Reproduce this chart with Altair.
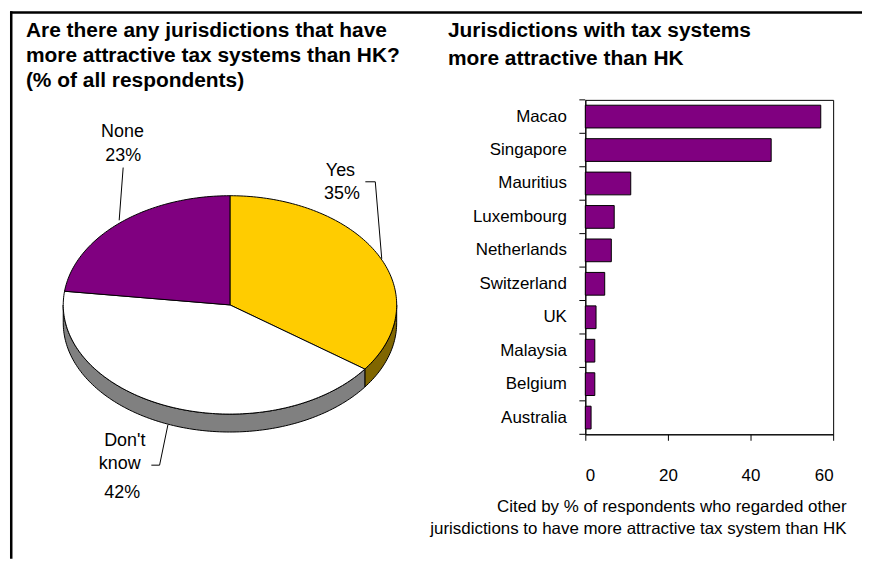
import math
import altair as alt
import pandas as pd

# ---------------- data ----------------
countries = ["Macao", "Singapore", "Mauritius", "Luxembourg", "Netherlands",
             "Switzerland", "UK", "Malaysia", "Belgium", "Australia"]
cited_pct = [57, 45, 11, 7, 6.3, 4.7, 2.6, 2.3, 2.3, 1.4]
x_ticks = [0, 20, 40, 60]

pie_labels = ["Yes", "Don't know", "None"]
pie_values = [35, 42, 23]
pie_colors = ["#FFCC00", "#FFFFFF", "#800080"]
pie_side_colors = ["#806600", "#808080", "#400040"]

title_left = ["Are there any jurisdictions that have",
              "more attractive tax systems than HK?",
              "(% of all respondents)"]
title_right = ["Jurisdictions with tax systems", "more attractive than HK"]
x_title = ["Cited by % of respondents who regarded other",
           "jurisdictions to have more attractive tax system than HK"]

# ---------------- layout (page pixels) ----------------
FONT = "Liberation Sans, Arial, sans-serif"
W, H = 249, 336          # bar plot area
OX, OY = 586, 97         # page position of the bar plot origin


def px(x):
    return x - OX


def py(y):
    return y - OY


# pie geometry (page coords)
CX, CY = 229, 303
RX, RY, DEPTH = 167.5, 109.7, 18


def ell(t, dy=0.0):
    return (CX - OX + RX * math.sin(t), CY - OY - RY * math.cos(t) + dy)


total = float(sum(pie_values))
slices = []
cum = 0.0
for lab, v, c, sc in zip(pie_labels, pie_values, pie_colors, pie_side_colors):
    a = cum / total * 2 * math.pi
    b = (cum + v) / total * 2 * math.pi
    cum += v
    slices.append((a, b, lab, c, sc))

rim_rows, top_rows = [], []
for a, b, lab, c, sc in slices:
    lo, hi = max(a, math.pi / 2), min(b, 3 * math.pi / 2)
    if hi > lo:
        n = max(2, int((hi - lo) / 0.02))
        top = [ell(lo + (hi - lo) * i / n) for i in range(n + 1)]
        bot = [(p[0], p[1] + DEPTH) for p in reversed(top)]
        for i, (x, y) in enumerate(top + bot):
            rim_rows.append({"sid": lab, "i": i, "x": x, "y": y, "col": sc})
    n = max(2, int((b - a) / 0.02))
    ring = [(CX - OX, CY - OY)] + [ell(a + (b - a) * i / n) for i in range(n + 1)]
    for i, (x, y) in enumerate(ring):
        top_rows.append({"sid": lab, "i": i, "x": x, "y": y, "col": c})
rim_df = pd.DataFrame(rim_rows)
top_df = pd.DataFrame(top_rows)

# leader lines (page coords)
leaders = {
    "Yes": [(365, 179.3), (375, 179.3), (381.5, 256.7)],
    "Don't know": [(150, 464), (158.3, 464), (166.7, 423.3)],
    "None": [(121.7, 165), (117.7, 218)],
}
lead_rows = []
for lab in pie_labels:
    for i, (x, y) in enumerate(leaders[lab]):
        lead_rows.append({"sid": lab, "i": i, "x": px(x), "y": py(y)})
lead_df = pd.DataFrame(lead_rows)

# label positions (page coords): name lines then percentage
label_pos = {
    "Yes": ([(340, 168.7)], (341.5, 191.7)),
    "Don't know": ([(123.3, 440), (118.3, 463.3)], (120.7, 491.7)),
    "None": ([(121, 129)], (121.7, 153)),
}
rows = []
for lab, v in zip(pie_labels, pie_values):
    name_pos, pct_pos = label_pos[lab]
    parts = lab.split(" ") if len(name_pos) > 1 else [lab]
    for part, (x, y) in zip(parts, name_pos):
        rows.append({"t": part, "x": px(x), "y": py(y)})
    rows.append({"t": f"{v}%", "x": px(pct_pos[0]), "y": py(pct_pos[1])})
pie_text_df = pd.DataFrame(rows)

X0 = alt.X("x:Q", scale=None)
Y0 = alt.Y("y:Q", scale=None)

pie_rim = alt.Chart(rim_df).mark_line(
    interpolate="linear-closed", stroke="black", strokeWidth=1
).encode(x=X0, y=Y0, detail="sid:N", order="i:Q",
         fill=alt.Fill("col:N", scale=None))

pie_top = alt.Chart(top_df).mark_line(
    interpolate="linear-closed", stroke="black", strokeWidth=1
).encode(x=X0, y=Y0, detail="sid:N", order="i:Q",
         fill=alt.Fill("col:N", scale=None))

pie_lines = alt.Chart(lead_df).mark_line(
    stroke="black", strokeWidth=1
).encode(x=X0, y=Y0, detail="sid:N", order="i:Q")

pie_text = alt.Chart(pie_text_df).mark_text(
    font=FONT, fontSize=18, color="black", align="center", baseline="middle"
).encode(x=X0, y=Y0, text="t:N")

# ---------------- bar chart ----------------
bars_df = pd.DataFrame({"country": countries, "pct": cited_pct})

y_axis = alt.Axis(title=None, ticks=False, domainColor="black", labelFont=FONT,
                  labelFontSize=17, labelColor="black", labelPadding=19,
                  labelLimit=0, grid=False)
yenc = alt.Y("country:N", sort=countries,
             scale=alt.Scale(paddingInner=0.32, paddingOuter=0.16), axis=y_axis)
x_axis = alt.Axis(values=x_ticks, format="d", grid=False, domainColor="black",
                  tickColor="black", tickSize=6, labelFont=FONT, labelFontSize=17,
                  labelColor="black", labelPadding=27, title=x_title,
                  titleFont=FONT, titleFontSize=17, titleFontWeight="normal",
                  titleColor="black", titleAnchor="end", titleAlign="right",
                  titleX=262, titleY=65, titleBaseline="top", titleLineHeight=22)
xenc = alt.X("pct:Q", scale=alt.Scale(domain=[0, 60], nice=False), axis=x_axis)

bars = alt.Chart(bars_df).mark_bar(
    color="#800080", stroke="black", strokeWidth=1
).encode(x=xenc, y=yenc)

cat_ticks = alt.Chart(bars_df).mark_rule(
    color="black", strokeWidth=1, yOffset=-H / 20.0
).encode(y=yenc, x=alt.value(-6), x2=alt.value(0))

one = pd.DataFrame({"k": [0]})
bottom_tick = alt.Chart(one).mark_rule(color="black", strokeWidth=1).encode(
    y=alt.value(H), x=alt.value(-6), x2=alt.value(0))

# ---------------- titles and frame ----------------
t_left = alt.Chart(one).mark_text(
    font=FONT, fontSize=21, fontWeight="bold", color="black",
    align="left", baseline="alphabetic", lineHeight=25
).encode(x=alt.value(px(24)), y=alt.value(py(34)), text=alt.value(title_left))

t_right = alt.Chart(one).mark_text(
    font=FONT, fontSize=21, fontWeight="bold", color="black",
    align="left", baseline="alphabetic", lineHeight=28
).encode(x=alt.value(px(448)), y=alt.value(py(34)), text=alt.value(title_right))

frame_top = alt.Chart(one).mark_rule(color="black", strokeWidth=2.5).encode(
    x=alt.value(px(8)), x2=alt.value(px(864)), y=alt.value(py(9.25)))
frame_left = alt.Chart(one).mark_rule(color="black", strokeWidth=2.5).encode(
    x=alt.value(px(9.25)), y=alt.value(py(8)), y2=alt.value(py(558)))

chart = alt.layer(
    frame_top, frame_left, t_left, t_right,
    pie_rim, pie_top, pie_lines, pie_text,
    bars, cat_ticks, bottom_tick,
).properties(
    width=W, height=H, padding=0, background="white"
).configure_view(
    stroke="black", strokeWidth=1
)

chart.save("out.html", embed_options={"renderer": "svg", "actions": False})
